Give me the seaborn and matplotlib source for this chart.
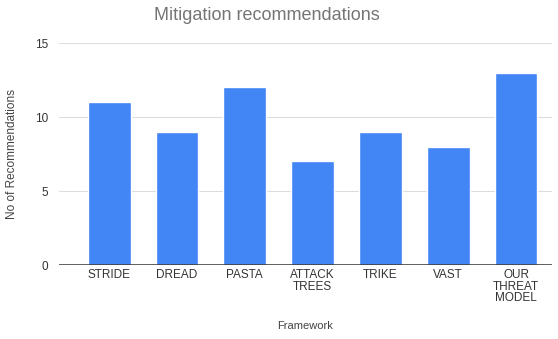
import matplotlib
matplotlib.use("Agg")
import matplotlib.pyplot as plt
import seaborn as sns
import pandas as pd

frameworks = ["STRIDE", "DREAD", "PASTA", "ATTACK\nTREES", "TRIKE", "VAST", "OUR\nTHREAT\nMODEL"]
recommendations = [11, 9, 12, 7, 9, 8, 13]
y_ticks = [0, 5, 10, 15]

df = pd.DataFrame({"Framework": frameworks, "No of Recommendations": recommendations})

sns.set_style("white")
plt.rcParams['font.family'] = ['Liberation Sans', 'DejaVu Sans']

fig = plt.figure(figsize=(5.58, 3.39), dpi=100)
ax = fig.add_axes([59 / 558, (339 - 265) / 339, 493 / 558, (265 - 43) / 339])

sns.barplot(data=df, x="Framework", y="No of Recommendations", color="#4285f4",
            width=0.63, saturation=1, ax=ax, zorder=3)

ax.set_xlim(-0.74, 6.53)
ax.set_ylim(0, 15)
ax.set_yticks(y_ticks)
ax.yaxis.grid(True, color="#dddddd", linewidth=0.8, zorder=0)
ax.axhline(0, color="#333333", linewidth=1.1, zorder=4)
for s in ax.spines.values():
    s.set_visible(False)

ax.tick_params(axis="both", length=0, labelsize=8.5, colors="#333333")
ax.tick_params(axis="y", pad=8)
ax.tick_params(axis="x", pad=3)
for lbl in ax.get_xticklabels():
    lbl.set_linespacing(0.95)

ax.set_xlabel("Framework", fontsize=8, color="#444444", labelpad=12)
ax.set_ylabel("No of Recommendations", fontsize=8.5, color="#444444", labelpad=12)
fig.text(267 / 558, 1 - 15 / 339, "Mitigation recommendations", ha="center", va="center",
         fontsize=13, color="#757575")

fig.savefig("out.png", dpi=100)
